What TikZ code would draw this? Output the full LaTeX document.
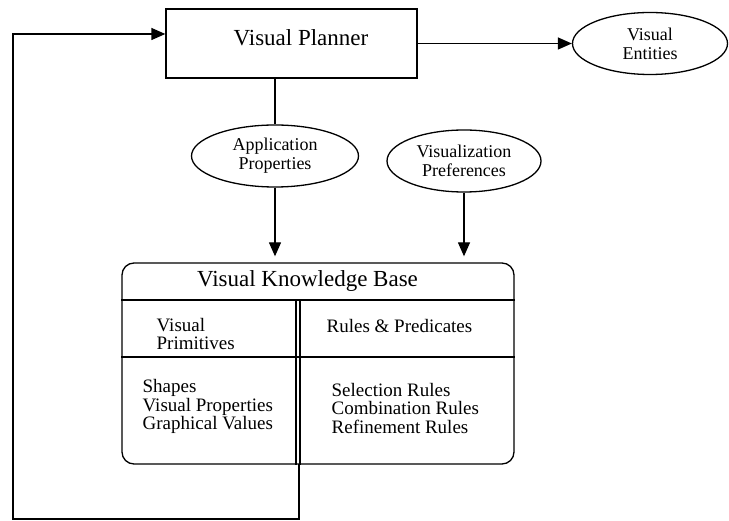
\documentclass[tikz,border=0pt]{standalone}
\usepackage{fontspec}
\setmainfont{Liberation Serif}
\usetikzlibrary{shapes.geometric,arrows.meta}

\begin{document}
\begin{tikzpicture}[x=1pt,y=-1pt,line width=1.3pt,
    box/.style={draw,rectangle,inner sep=0pt},
    oval/.style={draw,ellipse,inner sep=0pt,align=center,font=\fontsize{18}{19}\selectfont},
    arr/.style={-{Triangle[length=14pt,width=12pt]}},
    lst/.style={anchor=west,align=left,inner sep=0pt,font=\fontsize{19}{18.5}\selectfont}]
    \useasboundingbox (0,0) rectangle (729,521);

    \node[box,minimum width=251pt,minimum height=69pt] (planner) at (291.5,43.5) {};
    \node[font=\fontsize{23}{26}\selectfont] (plannertext) at (301,38) {Visual Planner};
    \node[oval,minimum width=155pt,minimum height=62pt] (entities) at (650,43.5) {Visual\\Entities};
    \node[oval,minimum width=167pt,minimum height=62pt] (appprops) at (275,156) {Application\\Properties};
    \node[oval,minimum width=154pt,minimum height=62pt] (vispref) at (464,161) {Visualization\\Preferences};

    \node[box,rounded corners=12pt,minimum width=392pt,minimum height=201pt] (kb) at (318,363.5) {};
    \node[font=\fontsize{23}{26}\selectfont] (kbtitle) at (307.5,281) {Visual Knowledge Base};
    \node[lst] (prim) at (156,334) {Visual\\Primitives};
    \node[lst] (rules) at (326,326) {Rules \& Predicates};
    \node[lst] (primlist) at (142,406.5) {Shapes\\Visual Properties\\Graphical Values};
    \node[lst] (ruleslist) at (331,408.5) {Selection Rules\\Combination Rules\\Refinement Rules};

    % compartments of the knowledge base
    \draw (kb.west |- 0,300) -- (kb.east |- 0,300);
    \draw (kb.west |- 0,357) -- (kb.east |- 0,357);
    \draw (296,300) -- (kb.south -| 296,0);
    \draw (300,300) -- (kb.south -| 300,0);

    \coordinate (loopstart) at (299,464);
    \coordinate (loopcorner) at (13,519);

    \draw[arr] (planner.east) -- (planner.east -| entities.west);
    \draw (planner.south -| appprops.north) -- (appprops.north);
    \draw[arr,shorten >=6pt] (appprops.south) -- (appprops.south |- kb.north);
    \draw[arr,shorten >=6pt] (vispref.south) -- (vispref.south |- kb.north);
    \draw[arr] (loopstart) |- (loopcorner) |- (planner.west |- 0,34);
\end{tikzpicture}
\end{document}
